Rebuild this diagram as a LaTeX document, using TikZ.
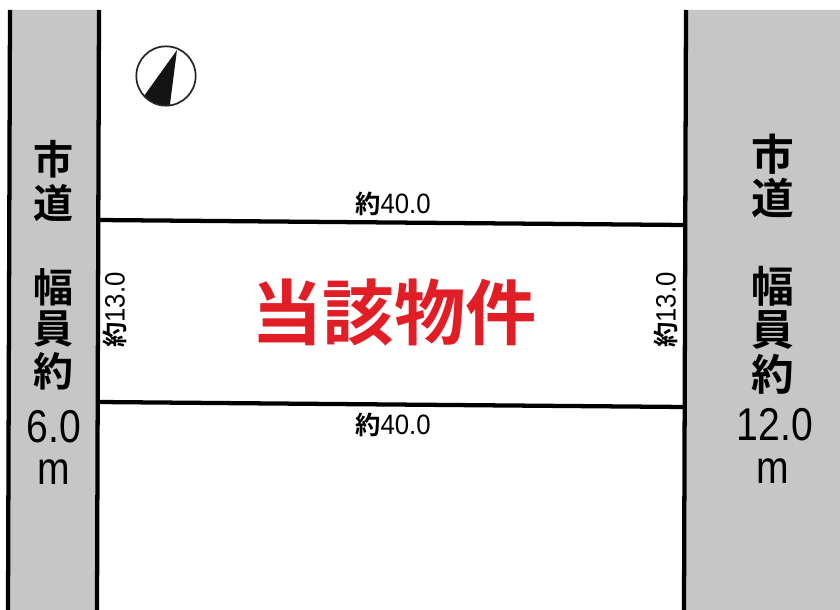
\documentclass[tikz,border=0pt]{standalone}
\usepackage{fontspec}
\setmainfont{Noto Sans CJK JP}
\newfontfamily\jpbold{Noto Sans CJK JP Bold}
\newfontfamily\digitsbig[FakeStretch=0.85]{Liberation Sans}
\newfontfamily\digitsmall[FakeStretch=0.92]{Liberation Sans}
\definecolor{roadgray}{RGB}{198,198,198}
\definecolor{redlabel}{RGB}{225,30,38}
\tikzset{
 edge/.style={draw=black,line width=3.2pt},
 road/.style={fill=roadgray,draw=none},
 dim/.style={inner sep=0pt,text=black},
 roadtxtL/.style={font=\jpbold\fontsize{30pt}{31pt}\selectfont,inner sep=0pt,text=black,anchor=center},
 roadtxtR/.style={font=\jpbold\fontsize{32pt}{33pt}\selectfont,inner sep=0pt,text=black,anchor=center},
 roadnum/.style={font=\digitsbig\fontsize{34.5pt}{35pt}\selectfont,inner sep=0pt,text=black,anchor=center},
}
\newcommand{\dimtext}[1]{{\jpbold\fontsize{19pt}{20pt}\selectfont 約}{\digitsmall\fontsize{21pt}{22pt}\selectfont #1}}
\begin{document}
\begin{tikzpicture}[x=0.75pt,y=-0.75pt]
\useasboundingbox (0,0) rectangle (840,610);
\fill[white] (0,0) rectangle (840,610);
\coordinate (l1t) at (10,10); \coordinate (l1b) at (8,610);
\coordinate (l2t) at (99,10); \coordinate (l2b) at (97,610);
\coordinate (r1t) at (686,10); \coordinate (r1b) at (684,610);
\coordinate (a1) at (98,220); \coordinate (a2) at (685,225);
\coordinate (b1) at (98,402); \coordinate (b2) at (685,407);
\fill[road] (l1t)--(l2t)--(l2b)--(l1b)--cycle;
\fill[road] (r1t)--(840,10)--(840,610)--(r1b)--cycle;
\draw[edge] (l1t)--(l1b); \draw[edge] (l2t)--(l2b); \draw[edge] (r1t)--(r1b);
\draw[edge] (a1)--(a2); \draw[edge] (b1)--(b2);
\node[dim] (t1) at (393,204) {\dimtext{40.0}};
\node[dim] (t2) at (393,425) {\dimtext{40.0}};
\node[dim,rotate=90] (t3) at (115,310) {\dimtext{13.0}};
\node[dim,rotate=90] (t4) at (666,310) {\dimtext{13.0}};
\node[font=\jpbold\fontsize{53.5pt}{54pt}\selectfont,text=redlabel,inner sep=0pt] (main) at (394,312) {当該物件};
\foreach \c/\y/\n in {市/159/a,道/203/b,幅/287/c,員/329/d,約/371/e}{
 \node[roadtxtL] (L\n) at (53,\y) {\c};
}
\node[roadnum] (L6) at (54,427) {6.0};
\node[roadnum] (Lm) at (54,472) {m};
\foreach \c/\y/\n in {市/154/a,道/198/b,幅/286/c,員/330/d,約/374/e}{
 \node[roadtxtR] (R\n) at (773,\y) {\c};
}
\node[roadnum] (R12) at (775,425) {12.0};
\node[roadnum] (Rm) at (773,471) {m};
\begin{scope}
\clip (166,76) circle[radius=30];
\fill[black!92] (177,50)--(144,96)--(144,112)--(169,112)--cycle;
\end{scope}
\node[circle,draw=black!85,line width=1.3pt,minimum size=44.5pt,inner sep=0pt] (compass) at (166,76) {};
\end{tikzpicture}
\end{document}
